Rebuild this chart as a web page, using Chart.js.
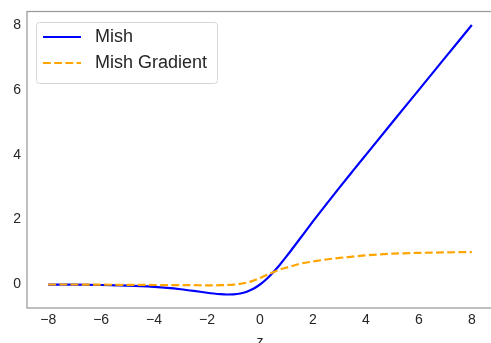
<!DOCTYPE html>
<html>
<head>
<meta charset="utf-8">
<script src="https://cdn.jsdelivr.net/npm/chart.js@4/dist/chart.umd.min.js"></script>
<style>
  html, body { margin: 0; padding: 0; background: #fff; overflow: hidden; }
  #wrap { width: 494px; height: 351px; }
</style>
</head>
<body>
<div id="wrap"><canvas id="c" width="494" height="351"></canvas></div>
<script>
// ---- data ----
const zValues = [-8,-7,-6,-5,-4.5,-4,-3.5,-3,-2.5,-2,-1.75,-1.5,-1.25,-1,-0.75,-0.5,-0.25,0,0.25,0.5,0.75,1,1.25,1.5,2,2.5,3,3.5,4,5,6,7,8];
const mishValues = [-0.003,-0.006,-0.015,-0.034,-0.050,-0.073,-0.104,-0.146,-0.197,-0.253,-0.278,-0.298,-0.308,-0.303,-0.277,-0.221,-0.130,0,0.170,0.375,0.610,0.865,1.132,1.403,1.944,2.471,2.987,3.494,3.997,5.000,6.000,7.000,8.000];
const gradValues = [0.0,0.0,-0.005,-0.01,-0.012,-0.015,-0.018,-0.02,-0.022,-0.025,-0.025,-0.022,-0.015,-0.005,0.02,0.06,0.12,0.2,0.29,0.38,0.46,0.52,0.58,0.64,0.71,0.77,0.82,0.86,0.9,0.95,0.975,0.99,1.0];
const seriesNames = ["Mish", "Mish Gradient"];
const xTickValues = [-8,-6,-4,-2,0,2,4,6,8];
const yTickValues = [0,2,4,6,8];
const xAxisTitle = "z";

const toPts = (ys) => zValues.map((x, i) => ({x: x, y: ys[i]}));
const fmt = (v) => String(v).replace('-', '\u2212');
const FONT = "'Liberation Sans', Arial, sans-serif";
const TXT = '#262626';

const frameAndLegend = {
  id: 'frameAndLegend',
  beforeDatasetsDraw(chart) {
    const {ctx, chartArea: a} = chart;
    ctx.save();
    ctx.strokeStyle = '#9a9a9a';
    ctx.lineWidth = 1.25;
    ctx.strokeRect(a.left, a.top, a.right - a.left, a.bottom - a.top);
    ctx.restore();
  },
  afterDraw(chart) {
    const {ctx} = chart;
    const ds = chart.data.datasets;
    ctx.save();
    const bx = 36.5, by = 22.5, bw = 181, bh = 61, r = 3;
    ctx.beginPath();
    ctx.roundRect(bx, by, bw, bh, r);
    ctx.fillStyle = 'rgba(255,255,255,0.8)';
    ctx.fill();
    ctx.strokeStyle = '#d6d6d6';
    ctx.lineWidth = 1;
    ctx.stroke();
    const rows = [37, 63];
    ds.forEach((d, i) => {
      const y = rows[i];
      ctx.beginPath();
      ctx.setLineDash(d.borderDash || []);
      ctx.strokeStyle = d.borderColor;
      ctx.lineWidth = d.borderWidth;
      ctx.moveTo(43, y);
      ctx.lineTo(81, y);
      ctx.stroke();
      ctx.setLineDash([]);
      ctx.fillStyle = TXT;
      ctx.font = '18px ' + FONT;
      ctx.textBaseline = 'middle';
      ctx.textAlign = 'left';
      ctx.fillText(d.label, 95, y + 0.5);
    });
    ctx.restore();
  }
};

new Chart(document.getElementById('c'), {
  type: 'line',
  data: {
    datasets: [
      { label: seriesNames[0], data: toPts(mishValues), borderColor: '#0000ff', borderWidth: 2.2,
        pointRadius: 0, cubicInterpolationMode: 'monotone', fill: false, order: 1 },
      { label: seriesNames[1], data: toPts(gradValues), borderColor: '#ffa500', borderWidth: 2.2,
        borderDash: [7.8, 3.4], pointRadius: 0, cubicInterpolationMode: 'monotone', fill: false, order: 0 }
    ]
  },
  options: {
    responsive: false,
    animation: false,
    devicePixelRatio: 1,
    layout: { padding: { top: 11.5, left: 0, right: 1, bottom: 0 } },
    plugins: { legend: { display: false }, tooltip: { enabled: false } },
    scales: {
      x: {
        type: 'linear', min: -8.8, max: 8.8,
        grid: { display: false, drawTicks: false },
        border: { display: false },
        afterBuildTicks: (s) => { s.ticks = xTickValues.map(v => ({value: v})); },
        afterFit: (s) => { s.height = 43; s.paddingLeft = 0; s.paddingRight = 0; },
        ticks: { padding: 4, color: TXT, font: { size: 14, family: FONT }, maxRotation: 0,
                 autoSkip: false, callback: (v) => fmt(v) },
        title: { display: true, text: xAxisTitle, color: TXT, font: { size: 14, family: FONT },
                 padding: { top: 0, bottom: 0 } }
      },
      y: {
        type: 'linear', min: -0.724, max: 8.415,
        grid: { display: false, drawTicks: false },
        border: { display: false },
        afterBuildTicks: (s) => { s.ticks = yTickValues.map(v => ({value: v})); },
        afterFit: (s) => { s.width = 27; s.paddingTop = 0; s.paddingBottom = 0; },
        ticks: { padding: 6, color: TXT, font: { size: 14, family: FONT }, callback: (v) => fmt(v) }
      }
    }
  },
  plugins: [frameAndLegend]
});
</script>
</body>
</html>
